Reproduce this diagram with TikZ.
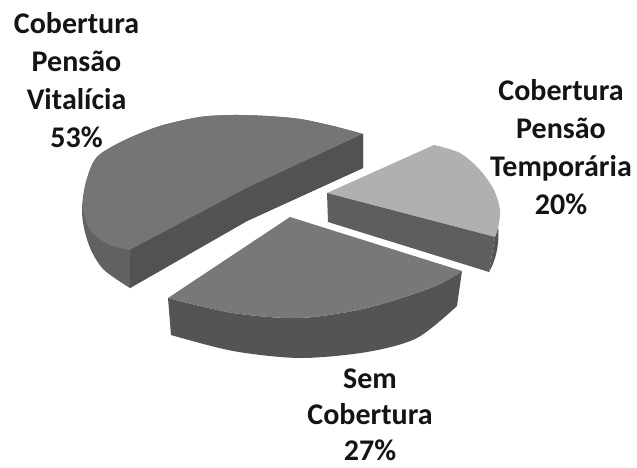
\documentclass[tikz,border=0pt]{standalone}
\usepackage{fontspec}
\setmainfont{Carlito}
\definecolor{vtop}{gray}{0.46}
\definecolor{vside}{gray}{0.38}
\definecolor{vfront}{gray}{0.32}
\definecolor{stop}{gray}{0.47}
\definecolor{sside}{gray}{0.33}
\definecolor{ttop}{gray}{0.69}
\definecolor{tfront}{gray}{0.37}
\definecolor{tside}{gray}{0.33}
\definecolor{ink}{gray}{0.08}
\begin{document}
\begin{tikzpicture}[x=1pt,y=-1pt,
  lbl/.style={font=\fontsize{30}{38}\selectfont\bfseries, align=center, inner sep=0pt, anchor=north, text=ink}]
\useasboundingbox (0,0) rectangle (637,468);
\fill[white] (0,0) rectangle (637,468);

% ---- Vitalicia slice (53%)
\coordinate (VA) at (130,250);
\coordinate (VAb) at (130,288);
\coordinate (VC) at (247,188);
\coordinate (VCb) at (247,221);
\coordinate (VB) at (363,134);
\coordinate (VBb) at (363,168);
\fill[vside] plot[smooth] coordinates {(363,134) (333,126) (300,119) (267,116) (233,115) (200,117) (160,126) (125,140) (97,157) (86,182) (82,208) (84,228) (91,250) (104,270) (130,288)}
  -- (VCb) -- (VBb) -- cycle;
\fill[vtop] plot[smooth] coordinates {(363,134) (333,126) (300,119) (267,116) (233,115) (200,117) (160,126) (125,140) (97,157) (86,182) (83,208) (90,230) (108,244) (130,250)}
  -- (VC) -- cycle;
\fill[vfront] (VA) -- (VC) -- (VB) -- (VBb) -- (VCb) -- (VAb) -- cycle;

% ---- Temporaria slice (20%)
\coordinate (TC) at (327,193);
\coordinate (TCb) at (328,222);
\coordinate (TD) at (434,145);
\coordinate (TB) at (495,237);
\coordinate (TBb) at (489,272);
\fill[tside] (498,226) -- (TB) -- (TBb) .. controls (495,262) and (500,245) .. (498,226) -- cycle;
\fill[ttop] (TC) -- (TD) -- plot[smooth] coordinates {(434,145) (460,153) (480,170) (494,190) (500,210) (498,228) (495,237)} -- cycle;
\fill[tfront] (TC) -- (TB) -- (TBb) -- (TCb) -- cycle;

% ---- Sem Cobertura slice (27%)
\coordinate (SC) at (290,217);
\coordinate (SA) at (168,298);
\coordinate (SAb) at (171,335);
\coordinate (SB) at (462,271);
\coordinate (SBb) at (457,306);
\fill[sside] plot[smooth] coordinates {(168,298) (233,313) (300,318) (367,308) (433,287) (462,271)}
  -- (SBb) -- plot[smooth] coordinates {(457,306) (417,338) (367,352) (300,358) (233,351) (171,335)} -- cycle;
\fill[stop] (SC) -- (SA) -- plot[smooth] coordinates {(168,298) (233,313) (300,318) (367,308) (433,287) (462,271)} -- cycle;

% ---- labels
\node[lbl] (lv) at (76.5,12) {Cobertura\\Pensão\\Vitalícia\\53\%};
\node[lbl] (lt) at (561,79) {Cobertura\\Pensão\\Temporária\\20\%};
\node[lbl, font=\fontsize{30}{36}\selectfont\bfseries] (ls) at (370,369) {Sem\\Cobertura\\27\%};
\end{tikzpicture}
\end{document}
